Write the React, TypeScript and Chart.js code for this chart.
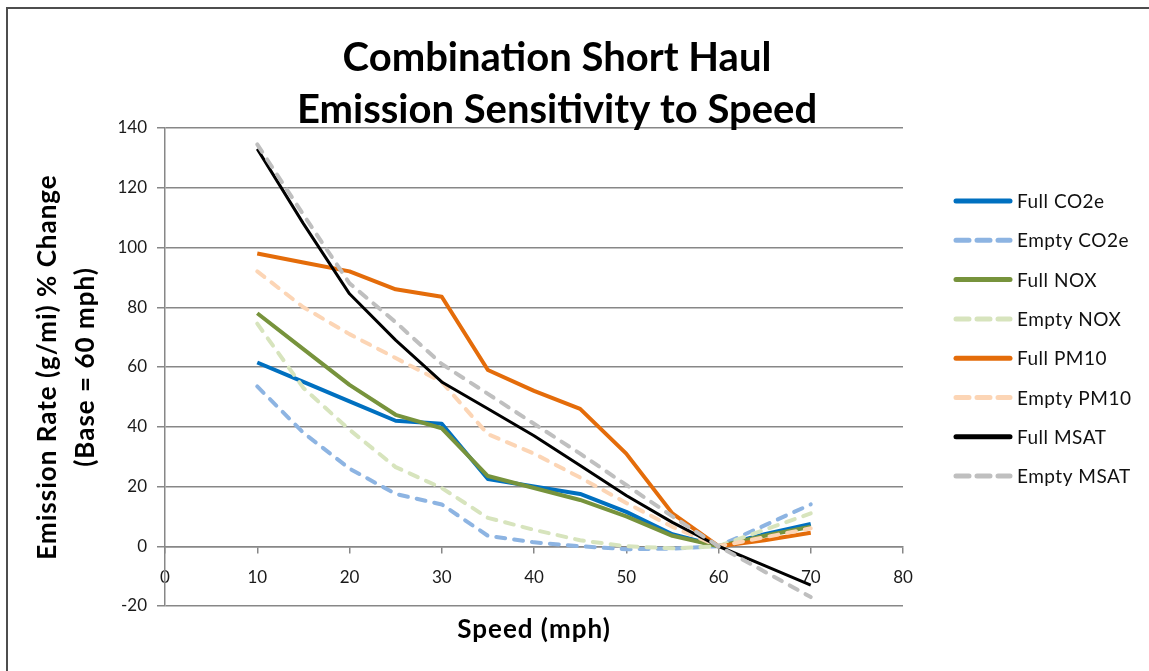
import React, { useEffect, useRef } from "react";
import { Chart, registerables } from "chart.js";

Chart.register(...registerables);

const TITLE_LINES = ["Combination Short Haul", "Emission Sensitivity to Speed"];
const Y_TITLE_LINES = ["Emission Rate (g/mi) % Change", "(Base = 60 mph)"];
const X_TITLE = "Speed (mph)";

const speeds = [10, 15, 20, 25, 30, 35, 40, 45, 50, 55, 60, 65, 70];

const fullCO2e = [61.5, 55, 48.5, 42, 41, 22.5, 20, 17.5, 11.5, 4, 0, 4, 7.5];
const emptyCO2e = [53.5, 38, 26, 17.5, 14, 3.5, 1.3, 0, -1, -0.8, 0, 7, 14];
const fullNOX = [78, 66, 54, 44, 39.5, 23.5, 19.5, 15.5, 10, 3.5, 0, 3.5, 6.5];
const emptyNOX = [74.5, 53, 39, 26.5, 19.5, 9.5, 5.5, 2, 0, -0.7, 0, 5.5, 11];
const fullPM10 = [98, 95, 92, 86, 83.5, 59, 52, 46, 31, 11, 0, 2, 4.5];
const emptyPM10 = [92, 80, 71, 63, 55, 37.5, 31, 23, 14.5, 6.5, 0, 3, 6];
const fullMSAT = [133, 108, 84.5, 69, 55, 46, 37, 27, 17, 8, 0, -6.5, -13];
const emptyMSAT = [134.5, 111, 88, 75, 61, 51, 41, 31, 20.5, 10, 0, -8.5, -17];

const seriesNames = [
  "Full CO2e",
  "Empty CO2e",
  "Full NOX",
  "Empty NOX",
  "Full PM10",
  "Empty PM10",
  "Full MSAT",
  "Empty MSAT",
];
const seriesValues = [fullCO2e, emptyCO2e, fullNOX, emptyNOX, fullPM10, emptyPM10, fullMSAT, emptyMSAT];
const seriesColors = ["#0070C0", "#8DB4E2", "#77933C", "#D7E4BD", "#E46C0A", "#FCD5B5", "#000000", "#BFBFBF"];
const seriesDashed = [false, true, false, true, false, true, false, true];

const X_MIN = 0;
const X_MAX = 80;
const X_STEP = 10;
const Y_MIN = -20;
const Y_MAX = 140;
const Y_STEP = 20;

const FONT = "Lato, 'DejaVu Sans', sans-serif";
const GRID = "#878787";

const overlayPlugin = {
  id: "overlay",
  afterDraw(chart: any) {
    const ctx = chart.ctx as any;
    ctx.save();
    ctx.fillStyle = "#000";
    ctx.textAlign = "center";
    ctx.textBaseline = "middle";
    ctx.font = `bold 40px ${FONT}`;
    TITLE_LINES.forEach((t, i) => ctx.fillText(t, 557, 58 + i * 52));

    ctx.letterSpacing = "1px";
    ctx.font = `bold 26px ${FONT}`;
    ctx.fillText(X_TITLE, 534, 630);

    ctx.save();
    ctx.translate(48, 367);
    ctx.rotate(-Math.PI / 2);
    ctx.fillText(Y_TITLE_LINES[0], 0, 0);
    ctx.restore();
    ctx.save();
    ctx.translate(86, 367);
    ctx.rotate(-Math.PI / 2);
    ctx.fillText(Y_TITLE_LINES[1], 0, 0);
    ctx.restore();

    // legend
    ctx.letterSpacing = "0.5px";
    ctx.textAlign = "left";
    ctx.font = `19px ${FONT}`;
    seriesNames.forEach((name, i) => {
      const y = 201 + i * 39.3;
      ctx.save();
      ctx.strokeStyle = seriesColors[i];
      ctx.lineWidth = 5;
      ctx.lineCap = "round";
      ctx.setLineDash(seriesDashed[i] ? [13, 8] : []);
      ctx.beginPath();
      ctx.moveTo(956, y);
      ctx.lineTo(1010, y);
      ctx.stroke();
      ctx.restore();
      ctx.fillStyle = "#111";
      ctx.fillText(name, 1017, y + 1);
    });
    ctx.letterSpacing = "0px";
    ctx.restore();
  },
};

export default function App() {
  const canvasRef = useRef<HTMLCanvasElement | null>(null);

  useEffect(() => {
    if (!canvasRef.current) return;
    const datasets = seriesNames.map((name, i) => ({
      label: name,
      data: speeds.map((s, j) => ({ x: s, y: seriesValues[i][j] })),
      borderColor: seriesColors[i],
      backgroundColor: seriesColors[i],
      borderWidth: i === 6 ? 3 : 4,
      borderDash: seriesDashed[i] ? [9, 9] : [],
      borderCapStyle: seriesDashed[i] ? "round" : "butt",
      borderJoinStyle: "round",
      pointRadius: 0,
      tension: 0,
      fill: false,
      order: seriesNames.length - i,
    }));

    const chart = new Chart(canvasRef.current, {
      type: "line",
      data: { datasets } as any,
      options: {
        animation: false,
        responsive: true,
        maintainAspectRatio: false,
        layout: { padding: { left: 0, right: 246, top: 128, bottom: 65 } },
        plugins: {
          legend: { display: false },
          title: { display: false },
          tooltip: { enabled: false },
        },
        scales: {
          x: {
            type: "linear",
            min: X_MIN,
            max: X_MAX,
            position: { y: 0 } as any,
            ticks: {
              stepSize: X_STEP,
              padding: 15,
              color: "#1a1a1a",
              font: { family: FONT, size: 17 },
            },
            grid: { drawOnChartArea: false, drawTicks: true, tickLength: 6, color: GRID, lineWidth: 1.5 },
            border: { display: true, color: GRID, width: 1.5 },
          },
          y: {
            type: "linear",
            min: Y_MIN,
            max: Y_MAX,
            ticks: {
              stepSize: Y_STEP,
              padding: 10,
              color: "#1a1a1a",
              font: { family: FONT, size: 17 },
            },
            grid: { color: GRID, lineWidth: 1.5, tickLength: 8 },
            border: { display: true, color: GRID, width: 1.5 },
            afterFit: (scale: any) => {
              scale.width = 165;
            },
          },
        },
      } as any,
      plugins: [overlayPlugin],
    });
    return () => chart.destroy();
  }, []);

  return (
    <div
      style={{
        position: "fixed",
        left: 0,
        top: 0,
        width: 1149,
        height: 671,
        overflow: "hidden",
        background: "#fff",
      }}
    >
      <div
        style={{
          position: "absolute",
          left: 6,
          top: 7,
          right: 0,
          bottom: 0,
          borderLeft: "2px solid #4d4d4d",
          borderTop: "2px solid #4d4d4d",
        }}
      />
      <canvas ref={canvasRef} style={{ position: "absolute", left: 0, top: 0, width: 1149, height: 671 }} />
    </div>
  );
}
